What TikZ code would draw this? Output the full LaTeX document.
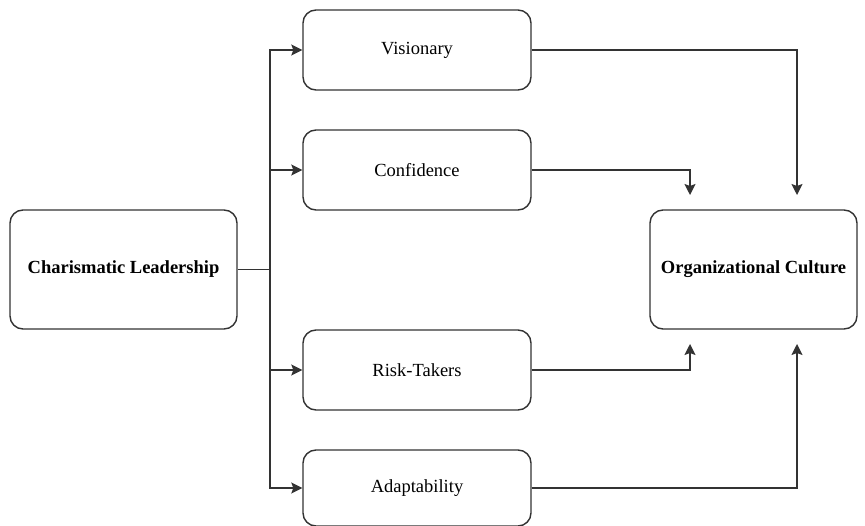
\documentclass[tikz,border=0pt]{standalone}
\usepackage{fontspec}
\setmainfont{Liberation Serif}
\usetikzlibrary{arrows.meta}
\definecolor{linec}{HTML}{333333}
\tikzset{
  box/.style={draw=linec, line width=1.4pt, rounded corners=13pt, fill=white,
    inner sep=0pt, font=\fontsize{18.5}{22}\selectfont, text=black},
  conn/.style={draw=linec, line width=1.4pt},
  arr/.style={conn, -{Stealth[length=11pt,width=11pt,inset=2pt]}}
}
\begin{document}
\begin{tikzpicture}[x=1pt,y=-1pt]
\useasboundingbox (0,0) rectangle (865,526);
\node[box, minimum width=227pt, minimum height=119pt, font=\bfseries\fontsize{18.5}{22}\selectfont] (charis) at (123.5,269.5) {Charismatic Leadership};
\node[box, minimum width=228pt, minimum height=80pt] (vis) at (417,50) {Visionary};
\node[box, minimum width=228pt, minimum height=80pt] (conf) at (417,170) {Confidence};
\node[box, minimum width=228pt, minimum height=80pt] (risk) at (417,370) {Risk-Takers};
\node[box, minimum width=228pt, minimum height=76pt] (adapt) at (417,488) {Adaptability};
\node[box, minimum width=207pt, minimum height=119pt, font=\bfseries\fontsize{18.5}{22}\selectfont] (org) at (753.5,269.5) {Organizational Culture};
\coordinate (bus) at (270,269.5);
\coordinate (t1) at (797,195);
\coordinate (t2) at (690,195);
\coordinate (b1) at (690,344);
\coordinate (b2) at (797,344);
\draw[conn] (charis.east) -- (bus);
\draw[arr] (bus) |- (vis.west);
\draw[arr] (bus) |- (conf.west);
\draw[arr] (bus) |- (risk.west);
\draw[arr] (bus) |- (adapt.west);
\draw[arr] (vis.east) -| (t1);
\draw[arr] (conf.east) -| (t2);
\draw[arr] (risk.east) -| (b1);
\draw[arr] (adapt.east) -| (b2);
\end{tikzpicture}
\end{document}
